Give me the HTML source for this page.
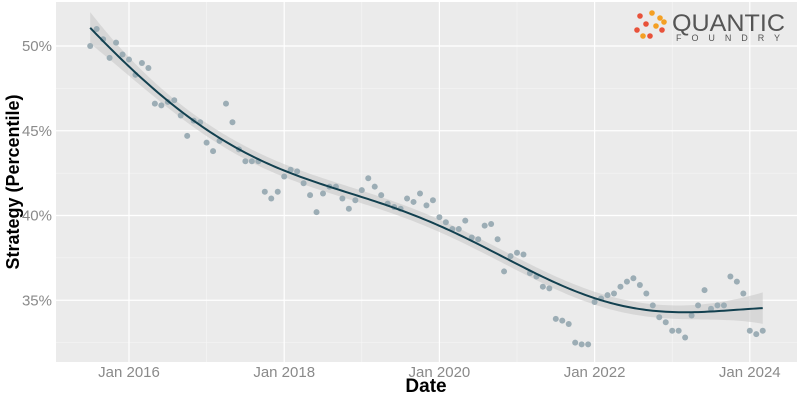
<!DOCTYPE html>
<html><head><meta charset="utf-8"><style>
body{margin:0;background:#fff;}
svg text{font-family:"Liberation Sans",sans-serif;}
</style></head><body>
<svg id="chart" width="800" height="400" xmlns="http://www.w3.org/2000/svg">
<rect x="56" y="2" width="741" height="360" fill="#ebebeb"/>
<g id="grid"></g>
<g id="band"></g>
<g id="points"></g>
<g id="fit"></g>
<g id="axes"></g>
<text x="14" y="182" transform="rotate(-90 14 182)" text-anchor="middle" dominant-baseline="middle" font-size="18" font-weight="bold" fill="#000">Strategy (Percentile)</text>
<text x="426" y="392" text-anchor="middle" font-size="19" font-weight="bold" fill="#000">Date</text>
<g>
<g fill="#e8523a">
<circle cx="640" cy="16" r="2.8"/><circle cx="646" cy="24" r="2.8"/><circle cx="637" cy="30" r="2.8"/><circle cx="650" cy="36" r="2.8"/><circle cx="662" cy="30" r="2.8"/>
</g>
<g fill="#f4a024">
<circle cx="652" cy="13" r="2.8"/><circle cx="660" cy="18" r="2.8"/><circle cx="643" cy="36" r="2.8"/><circle cx="656" cy="26" r="2.8"/><circle cx="664" cy="22" r="2.8"/>
</g>
<text x="672" y="31" font-size="24" textLength="113" lengthAdjust="spacingAndGlyphs" fill="#555">QUANTIC</text>
<text x="676" y="41" font-size="9" textLength="104" lengthAdjust="spacing" fill="#555">FOUNDRY</text>
</g>
</svg>
<script>
const startMonth = -6; // months since Jan 2016 of first point (Jul 2015)
const values = [50.0,51.0,50.4,49.3,50.2,49.5,49.2,48.3,49.0,48.7,
46.6,46.5,46.7,46.8,45.9,44.7,45.6,45.5,44.3,43.8,
44.4,46.6,45.5,43.9,43.2,43.2,43.2,41.4,41.0,41.4,
42.3,42.7,42.6,41.9,41.2,40.2,41.3,41.7,41.7,41.0,
40.4,40.9,41.5,42.2,41.7,41.2,40.7,40.5,40.4,41.0,
40.8,41.3,40.6,40.9,39.9,39.6,39.2,39.2,39.7,38.7,
38.6,39.4,39.5,38.6,36.7,37.6,37.8,37.7,36.6,36.4,
35.8,35.7,33.9,33.8,33.6,32.5,32.4,32.4,34.9,35.1,
35.3,35.4,35.8,36.1,36.3,35.9,35.4,34.7,34.0,33.7,
33.2,33.2,32.8,34.1,34.7,35.6,34.5,34.7,34.7,36.4,
36.1,35.4,33.2,33.0,33.2];
const yTicks = [35,40,45,50];
const yMinor = [32.5,37.5,42.5,47.5];
const xTickLabels = ["Jan 2016","Jan 2018","Jan 2020","Jan 2022","Jan 2024"];
const xTickMonths = [0,24,48,72,96];
const xMinorMonths = [12,36,60,84,108];

const NS="http://www.w3.org/2000/svg";
const X = m => 129 + m*77.6/12;
const Y = v => 46 + (50-v)*16.95;
const L=56,R=797,T=2,B=362;
function mk(tag, attrs, parent){const e=document.createElementNS(NS,tag);for(const k in attrs)e.setAttribute(k,attrs[k]);parent.appendChild(e);return e;}
const grid=document.getElementById('grid'), axes=document.getElementById('axes');
yMinor.forEach(v=>{const l=mk('line',{x1:L,x2:R,y1:Y(v),y2:Y(v),stroke:'#f7f7f7','stroke-width':0.6},grid);

});
xMinorMonths.forEach(m=>{if(X(m)>R)return;const l=mk('line',{x1:X(m),x2:X(m),y1:T,y2:B,stroke:'#f7f7f7','stroke-width':0.6},grid);

});
yTicks.forEach(v=>{const l=mk('line',{x1:L,x2:R,y1:Y(v),y2:Y(v),stroke:'#fff','stroke-width':1.2},grid);


const t=mk('text',{x:L-4,y:Y(v)+5,'text-anchor':'end','font-size':15,fill:'#8a8a8a'},axes);t.textContent=v+'%';

});
xTickMonths.forEach((m,i)=>{const l=mk('line',{x1:X(m),x2:X(m),y1:T,y2:B,stroke:'#fff','stroke-width':1.2},grid);


const t=mk('text',{x:X(m),y:377,'text-anchor':'middle','font-size':15,fill:'#8a8a8a'},axes);t.textContent=xTickLabels[i];

});

// points
const pg=document.getElementById('points');
values.forEach((v,i)=>{const c=mk('circle',{cx:X(startMonth+i),cy:Y(v),r:3,fill:'#9cadb5'},pg);

});

// local quadratic smoother (loess-like)
const n=values.length, xs=values.map((_,i)=>startMonth+i);
const h=17;
function solve3(A,b){const M=A.map((r,i)=>r.concat([b[i]]));
for(let c=0;c<3;c++){let p=c;for(let r=c+1;r<3;r++)if(Math.abs(M[r][c])>Math.abs(M[p][c]))p=r;[M[c],M[p]]=[M[p],M[c]];
for(let r=0;r<3;r++){if(r===c)continue;const f=M[r][c]/M[c][c];for(let k=c;k<4;k++)M[r][k]-=f*M[c][k];}}
return [M[0][3]/M[0][0],M[1][3]/M[1][1],M[2][3]/M[2][2]];}
function localFit(x0){const A=[[0,0,0],[0,0,0],[0,0,0]];const w=[];
for(let i=0;i<n;i++){const u=(xs[i]-x0)/h;const wi=Math.exp(-0.5*u*u);w.push(wi);const d=xs[i]-x0;const z=[1,d,d*d];
for(let a=0;a<3;a++)for(let b=0;b<3;b++)A[a][b]+=wi*z[a]*z[b];}
const g=solve3(A,[1,0,0]);
let f=0,sl2=0;for(let i=0;i<n;i++){const d=xs[i]-x0;const li=w[i]*(g[0]+g[1]*d+g[2]*d*d);f+=li*values[i];sl2+=li*li;}
return [f,Math.sqrt(sl2)];}
let ss=0;for(let i=0;i<n;i++){const r=values[i]-localFit(xs[i])[0];ss+=r*r;}
const sigma=Math.sqrt(ss/(n-8));
const up=[],lo=[],mid=[];
for(let x=xs[0];x<=xs[n-1]+0.001;x+=0.5){const [f,s]=localFit(x);mid.push([X(x),Y(f)]);up.push([X(x),Y(f+1.96*sigma*s)]);lo.push([X(x),Y(f-1.96*sigma*s)]);}
const bandPts=up.concat(lo.slice().reverse()).map(p=>p.join(',')).join(' ');
const band=mk('polygon',{points:bandPts,fill:'#c9c9c9','fill-opacity':0.6},document.getElementById('band'));


const line=mk('polyline',{points:mid.map(p=>p.join(',')).join(' '),fill:'none',stroke:'#12404f','stroke-width':2},document.getElementById('fit'));


</script>
</body></html>
